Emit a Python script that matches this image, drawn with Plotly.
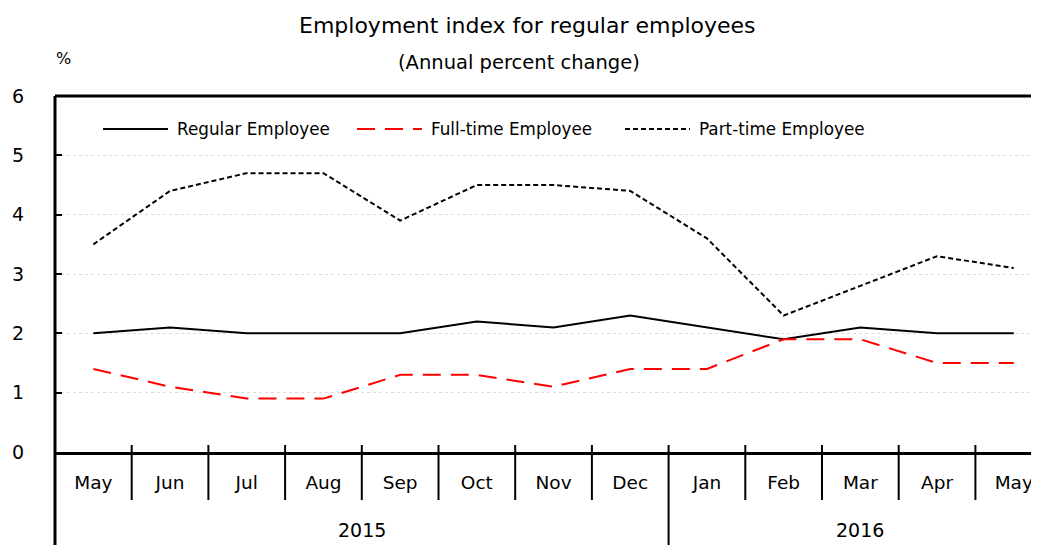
import plotly.graph_objects as go

# data
months = ["May", "Jun", "Jul", "Aug", "Sep", "Oct", "Nov", "Dec",
          "Jan", "Feb", "Mar", "Apr", "May"]
years = ["2015", "2016"]
year_start = [0, 8]   # index of first month for each year
regular = [2.0, 2.1, 2.0, 2.0, 2.0, 2.2, 2.1, 2.3, 2.1, 1.9, 2.1, 2.0, 2.0]
full_time = [1.4, 1.1, 0.9, 0.9, 1.3, 1.3, 1.1, 1.4, 1.4, 1.9, 1.9, 1.5, 1.5]
part_time = [3.5, 4.4, 4.7, 4.7, 3.9, 4.5, 4.5, 4.4, 3.6, 2.3, 2.8, 3.3, 3.1]

# the page puts the figure 8px in from the window corner (body margin)
OFF = 8
W, H = 1039 - OFF, 545 - OFF
# plot box in window pixels: left 55, top 96, bottom 452
L, T, B = 55 - OFF, 96 - OFF, 545 - 452
PLOT_W = W - L
PLOT_H = H - T - B
FONT = "DejaVu Sans"


def px_x(px):
    return (px - OFF - L) / PLOT_W


def px_y(py):
    return (H + OFF - B - py) / PLOT_H


def label(text, px, py, size, anchor="center"):
    return dict(text=text, x=px_x(px), xref="paper", y=px_y(py), yref="paper",
                xanchor=anchor, yanchor="middle", showarrow=False,
                font=dict(size=size, color="black"))


x = list(range(len(months)))
cat_w = 76.7  # pixel width of one month slot

fig = go.Figure()
fig.add_trace(go.Scatter(x=x, y=regular, mode="lines", name="Regular Employee",
                         line=dict(color="black", width=2)))
fig.add_trace(go.Scatter(x=x, y=full_time, mode="lines", name="Full-time Employee",
                         line=dict(color="#FF0000", width=2, dash="18px,10px")))
fig.add_trace(go.Scatter(x=x, y=part_time, mode="lines", name="Part-time Employee",
                         line=dict(color="black", width=2, dash="5px,3px")))

shapes = []
annotations = []

# top border and extended left axis
shapes.append(dict(type="line", xref="paper", yref="paper", x0=0, x1=1, y0=1, y1=1,
                   line=dict(color="black", width=3)))
shapes.append(dict(type="line", xref="paper", yref="paper", x0=0, x1=0,
                   y0=px_y(550), y1=1, line=dict(color="black", width=3)))

# month dividers and year dividers
for k in range(1, len(months)):
    bottom = 550 if k in year_start else 500
    shapes.append(dict(type="line", xref="x", yref="paper", x0=k - 0.5, x1=k - 0.5,
                       y0=px_y(bottom), y1=px_y(445), line=dict(color="black", width=2)))

# year labels
for i, yr in enumerate(years):
    a = year_start[i] - 0.5
    b = (year_start[i + 1] - 0.5) if i + 1 < len(years) else len(months) - 0.5
    annotations.append(dict(text=yr, x=(a + b) / 2, xref="x", y=px_y(530), yref="paper",
                            xanchor="center", yanchor="middle", showarrow=False,
                            font=dict(size=19, color="black")))

# titles
annotations.append(label("Employment index for regular employees", 527, 25, 22))
annotations.append(label("(Annual percent change)", 519, 63, 19.5))
annotations.append(label("%", 63, 58, 16))

# hand-drawn legend
legend_items = [
    ("Regular Employee", 103, dict(color="black", width=2)),
    ("Full-time Employee", 357, dict(color="#FF0000", width=2, dash="18px,10px")),
    ("Part-time Employee", 625, dict(color="black", width=2, dash="5px,3px")),
]
for name, x0, ln in legend_items:
    shapes.append(dict(type="line", xref="paper", yref="paper", x0=px_x(x0), x1=px_x(x0 + 65),
                       y0=px_y(129), y1=px_y(129), line=ln))
    annotations.append(label(name, x0 + 72, 129, 16.8, anchor="left"))

fig.update_layout(
    width=W, height=H,
    margin=dict(l=L, r=0, t=T, b=B, autoexpand=False),
    plot_bgcolor="white", paper_bgcolor="white",
    font=dict(family=FONT, color="black"),
    showlegend=False,
    shapes=shapes,
    annotations=annotations,
)
fig.update_xaxes(range=[-0.5, -0.5 + PLOT_W / cat_w], tickvals=x, ticktext=months,
                 showgrid=False, zeroline=False, showline=True, linecolor="black", linewidth=3,
                 ticks="", tickfont=dict(size=18.5), ticklabelstandoff=12, automargin=False)
fig.update_yaxes(range=[0, 6], dtick=1, showgrid=True, gridcolor="#dddddd", griddash="dot",
                 gridwidth=1, zeroline=False, showline=False,
                 ticks="inside", ticklen=7, tickwidth=2, tickcolor="black",
                 tickfont=dict(size=19), ticklabelstandoff=30, automargin=False)

fig.write_html("out.html")
